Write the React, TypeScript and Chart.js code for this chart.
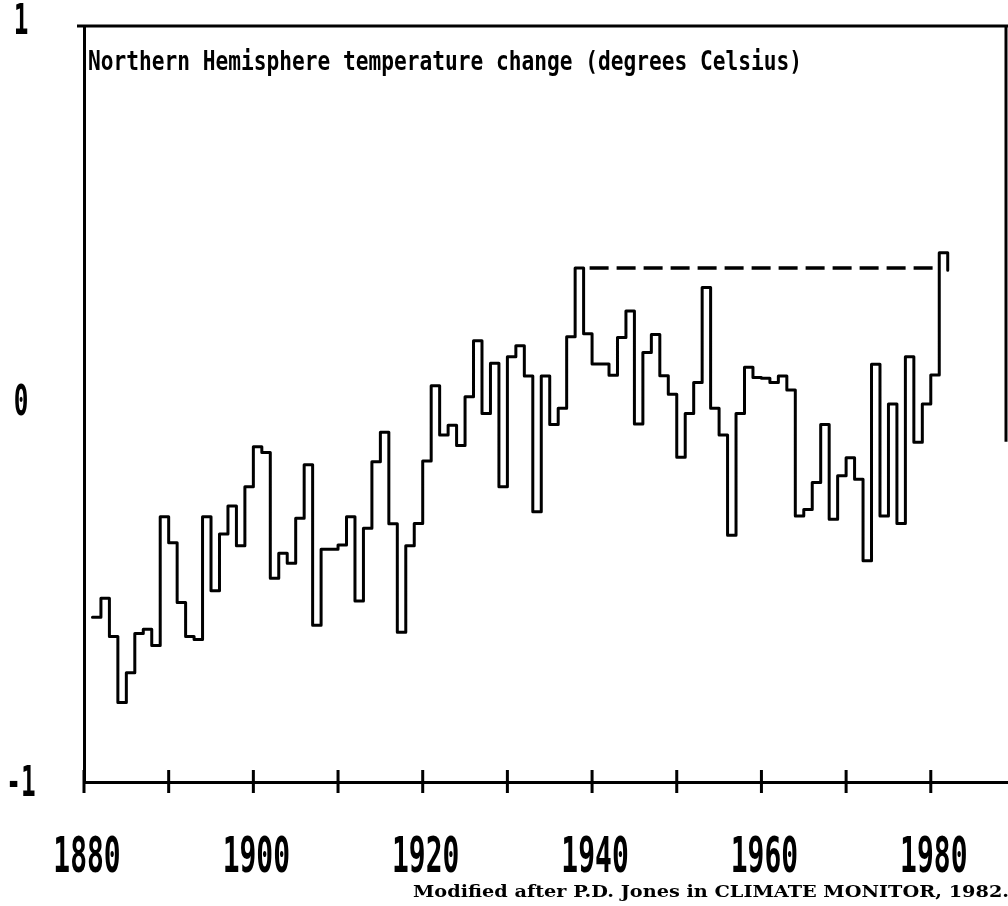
import React, { useEffect, useRef } from 'react';
import { Chart, registerables } from 'chart.js';

Chart.register(...registerables);

// Years (each value holds from its year to the next)
const years = [
  1881, 1882, 1883, 1884, 1885, 1886, 1887, 1888, 1889, 1890,
  1891, 1892, 1893, 1894, 1895, 1896, 1897, 1898, 1899, 1900,
  1901, 1902, 1903, 1904, 1905, 1906, 1907, 1908, 1909, 1910,
  1911, 1912, 1913, 1914, 1915, 1916, 1917, 1918, 1919, 1920,
  1921, 1922, 1923, 1924, 1925, 1926, 1927, 1928, 1929, 1930,
  1931, 1932, 1933, 1934, 1935, 1936, 1937, 1938, 1939, 1940,
  1941, 1942, 1943, 1944, 1945, 1946, 1947, 1948, 1949, 1950,
  1951, 1952, 1953, 1954, 1955, 1956, 1957, 1958, 1959, 1960,
  1961, 1962, 1963, 1964, 1965, 1966, 1967, 1968, 1969, 1970,
  1971, 1972, 1973, 1974, 1975, 1976, 1977, 1978, 1979, 1980,
  1981,
];

// Northern Hemisphere temperature change (degrees Celsius)
const anomalies = [
  -0.564, -0.514, -0.615, -0.790, -0.711, -0.607, -0.596, -0.639, -0.298, -0.367,
  -0.525, -0.615, -0.623, -0.298, -0.494, -0.344, -0.270, -0.375, -0.219, -0.113,
  -0.128, -0.461, -0.395, -0.421, -0.302, -0.161, -0.585, -0.384, -0.384, -0.373,
  -0.298, -0.521, -0.329, -0.153, -0.075, -0.317, -0.604, -0.375, -0.316, -0.151,
  0.048, -0.082, -0.056, -0.110, 0.019, 0.167, -0.025, 0.108, -0.219, 0.125,
  0.154, 0.074, -0.285, 0.074, -0.054, -0.011, 0.178, 0.360, 0.186, 0.106,
  0.106, 0.076, 0.176, 0.246, -0.053, 0.136, 0.184, 0.075, 0.026, -0.141,
  -0.025, 0.057, 0.308, -0.011, -0.082, -0.347, -0.025, 0.097, 0.070, 0.068,
  0.057, 0.074, 0.037, -0.296, -0.279, -0.208, -0.054, -0.305, -0.190, -0.142,
  -0.199, -0.415, 0.105, -0.296, 0.000, -0.316, 0.125, -0.101, 0.000, 0.077,
  0.400,
];

// Pen lift point at the end of the trace
const endYear = 1982;
const endValue = 0.354;

// Dashed reference level (1938 peak carried forward)
const referenceLevel = 0.36;
const referenceYears = [1939, 1981];

// Axis ticks and labels
const xTicks = [1880, 1890, 1900, 1910, 1920, 1930, 1940, 1950, 1960, 1970, 1980];
const xLabelYears = [1880, 1900, 1920, 1940, 1960, 1980];
const yLabels = [
  { value: 1, text: '1' },
  { value: 0, text: '0' },
  { value: -1, text: '-1' },
];

const titleText = 'Northern Hemisphere temperature change (degrees Celsius)';
const sourceText = 'Modified after P.D. Jones in CLIMATE MONITOR, 1982.';

const drawCondensed = (
  ctx: CanvasRenderingContext2D,
  text: string,
  x: number,
  y: number,
  sx: number,
  align: CanvasTextAlign
) => {
  ctx.save();
  ctx.translate(x, y);
  ctx.scale(sx, 1);
  ctx.textAlign = align;
  ctx.fillText(text, 0, 0);
  ctx.restore();
};

const framePlugin = {
  id: 'frameAndLabels',
  beforeDraw(chart: any) {
    const { ctx, width, height } = chart;
    ctx.save();
    ctx.fillStyle = '#ffffff';
    ctx.fillRect(0, 0, width, height);
    ctx.restore();
  },
  afterDraw(chart: any) {
    const { ctx, chartArea, scales } = chart;
    const { left, right, top, bottom } = chartArea;
    const xs = scales.x;
    const ys = scales.y;
    ctx.save();
    ctx.strokeStyle = '#000';
    ctx.fillStyle = '#000';
    ctx.lineWidth = 3;
    ctx.lineCap = 'butt';

    // top frame line
    ctx.beginPath();
    ctx.moveTo(left - 7, top);
    ctx.lineTo(chart.width, top);
    ctx.stroke();

    // right frame line (partial, as in the scan)
    ctx.beginPath();
    ctx.moveTo(right - 1, top);
    ctx.lineTo(right - 1, ys.getPixelForValue(-0.1));
    ctx.stroke();

    // crossing tick marks on the x axis
    ctx.beginPath();
    xTicks.forEach((t) => {
      const px = xs.getPixelForValue(t);
      ctx.moveTo(px, bottom - 12);
      ctx.lineTo(px, bottom + 11);
    });
    ctx.stroke();

    // x labels
    ctx.font = 'bold 50px "DejaVu Sans Mono"';
    ctx.textBaseline = 'alphabetic';
    xLabelYears.forEach((yr) => {
      drawCondensed(ctx, String(yr), xs.getPixelForValue(yr) + 3, 872, 0.56, 'center');
    });

    // y labels
    ctx.font = 'bold 42px "DejaVu Sans Mono"';
    ctx.textBaseline = 'middle';
    yLabels.forEach((l) => {
      const py = ys.getPixelForValue(l.value);
      const dy = l.value === 1 ? -3 : l.value === -1 ? 3 : 0;
      drawCondensed(ctx, l.text, left - 63, py + dy, 0.58, 'center');
    });

    // title inside the frame
    ctx.font = 'bold 26px "DejaVu Sans Mono"';
    ctx.textBaseline = 'alphabetic';
    const tw = ctx.measureText(titleText).width;
    drawCondensed(ctx, titleText, 88, 70, 714 / tw, 'left');

    // source note
    ctx.font = 'bold 17px "DejaVu Serif"';
    const sw = ctx.measureText(sourceText).width;
    drawCondensed(ctx, sourceText, 413, 897, 596 / sw, 'left');

    ctx.restore();
  },
};

export default function App() {
  const canvasRef = useRef<HTMLCanvasElement | null>(null);

  useEffect(() => {
    if (!canvasRef.current) return;
    const tempPoints = years
      .map((yr, i) => ({ x: yr, y: anomalies[i] }))
      .concat([{ x: endYear, y: endValue }]);
    const refPoints = referenceYears.map((yr) => ({ x: yr, y: referenceLevel }));

    const chart = new Chart(canvasRef.current, {
      type: 'line',
      data: {
        datasets: [
          {
            data: tempPoints,
            stepped: 'before',
            borderColor: '#000',
            borderWidth: 3,
            pointRadius: 0,
            fill: false,
            borderJoinStyle: 'round',
            borderCapStyle: 'round',
          },
          {
            data: refPoints,
            borderColor: '#000',
            borderWidth: 3.5,
            borderDash: [19, 8],
            borderDashOffset: -6,
            pointRadius: 0,
            fill: false,
          },
        ],
      },
      options: {
        animation: false,
        responsive: false,
        layout: { padding: { left: 84, right: 1, top: 26, bottom: 124 } },
        plugins: {
          legend: { display: false },
          tooltip: { enabled: false },
          title: { display: false },
        },
        scales: {
          x: {
            type: 'linear',
            min: 1880,
            max: 1989,
            ticks: { display: false },
            grid: { display: false, drawTicks: false },
            border: { display: true, color: '#000', width: 3 },
          },
          y: {
            type: 'linear',
            min: -1,
            max: 1,
            ticks: { display: false },
            grid: { display: false, drawTicks: false },
            border: { display: true, color: '#000', width: 3 },
          },
        },
      },
      plugins: [framePlugin],
    } as any);

    return () => chart.destroy();
  }, []);

  return (
    <div style={{ position: 'absolute', left: 0, top: 0, width: 1008, height: 906, background: '#fff' }}>
      <canvas ref={canvasRef} width={1008} height={906} style={{ display: 'block' }} />
    </div>
  );
}
